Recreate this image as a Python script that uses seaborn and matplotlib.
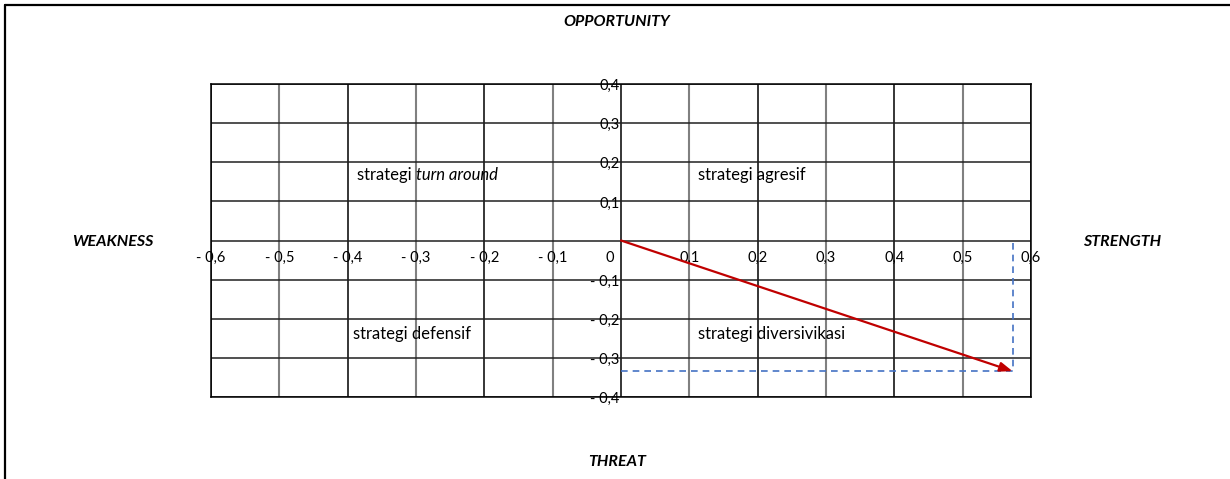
import numpy as np
import pandas as pd
import matplotlib
matplotlib.use("Agg")
import matplotlib.pyplot as plt
import matplotlib.transforms as mtransforms
from matplotlib.lines import Line2D
import seaborn as sns

sns.set_style("white")
plt.rcParams["font.family"] = ["Lato", "DejaVu Sans"]
plt.rcParams["text.color"] = "black"

# axis ticks (strength/weakness on x, opportunity/threat on y)
x_ticks = [-0.6, -0.5, -0.4, -0.3, -0.2, -0.1, 0.0, 0.1, 0.2, 0.3, 0.4, 0.5, 0.6]
x_labels = ["- 0,6", "- 0,5", "- 0,4", "- 0,3", "- 0,2", "- 0,1", "0",
            "0,1", "0,2", "0,3", "0,4", "0,5", "0,6"]
y_ticks = [0.4, 0.3, 0.2, 0.1, 0.0, -0.1, -0.2, -0.3, -0.4]
y_labels = ["0,4", "0,3", "0,2", "0,1", "", "- 0,1", "- 0,2", "- 0,3", "- 0,4"]

# position of the company (IFAS total, EFAS total)
score_x = 0.573
score_y = -0.334

RED = "#c00000"
BLUE = "#4472c4"

fig = plt.figure(figsize=(12.3, 4.79), dpi=100)
ax = fig.add_axes([211 / 1230, 82 / 479, 820 / 1230, 313 / 479])
ax.set_xlim(x_ticks[0], x_ticks[-1])
ax.set_ylim(min(y_ticks), max(y_ticks))

# grid - even tenths black, odd tenths grey on x
ax.set_xticks(x_ticks)
ax.set_yticks(y_ticks)
ax.grid(True, lw=1.1)
for i, gl in enumerate(ax.xaxis.get_gridlines()):
    gl.set_color("black" if i % 2 == 0 else "#808080")
    gl.set_linewidth(1.1 if i % 2 == 0 else 1.5)
for gl in ax.yaxis.get_gridlines():
    gl.set_color("#202020")
ax.tick_params(length=0, labelbottom=False, labelleft=False)
for s in ax.spines.values():
    s.set_color("black")
    s.set_linewidth(1.1)

# tick labels sit on the centre axes
xoff = mtransforms.offset_copy(ax.transData, fig=fig, x=0, y=-12.5, units="points")
zoff = mtransforms.offset_copy(ax.transData, fig=fig, x=-8, y=-12.5, units="points")
for v, lab in zip(x_ticks, x_labels):
    ax.text(v, 0, lab, ha="center", va="center", fontsize=10.5,
            transform=zoff if lab == "0" else xoff)
yoff = mtransforms.offset_copy(ax.transData, fig=fig, x=-1, y=-1.5, units="points")
for v, lab in zip(y_ticks, y_labels):
    ax.text(0, v, lab, ha="right", va="center", fontsize=10.5, transform=yoff)

# guide lines to the position
guide = pd.DataFrame({"x": [0, score_x, score_x], "y": [score_y, score_y, 0]})
sns.lineplot(data=guide, x="x", y="y", sort=False, estimator=None, ax=ax,
             color=BLUE, lw=1.2, dashes=False, linestyle=(0, (4, 3)))
ax.set_xlabel("")
ax.set_ylabel("")

ax.annotate("", xy=(score_x, score_y), xytext=(0, 0),
            arrowprops=dict(arrowstyle="-|>,head_length=0.75,head_width=0.28",
                            color=RED, lw=1.6, shrinkA=0, shrinkB=0,
                            mutation_scale=10))

# quadrant names
q_kw = dict(fontsize=12, va="center")
t1 = ax.text(-0.3865, 0.1675, "strategi ", **q_kw)
ax.annotate("turn around", xy=(1, 0), xycoords=t1, va="bottom", ha="left",
            fontsize=12, style="italic")
ax.text(0.113, 0.1675, "strategi agresif", **q_kw)
ax.text(-0.392, -0.239, "strategi defensif", **q_kw)
ax.text(0.113, -0.239, "strategi diversivikasi", **q_kw)

# outer labels
lab_kw = dict(fontsize=11.5, fontweight="bold", style="italic",
              ha="center", va="center")
fig.text(617 / 1230, 1 - 22 / 479, "OPPORTUNITY", **lab_kw)
fig.text(617 / 1230, 1 - 462 / 479, "THREAT", **lab_kw)
fig.text(113 / 1230, 1 - 242 / 479, "WEAKNESS", **lab_kw)
fig.text(1122 / 1230, 1 - 242 / 479, "STRENGTH", **lab_kw)

# frame around the picture (top and left only)
fig.add_artist(Line2D([5 / 1230, 1], [1 - 4.5 / 479] * 2, color="black", lw=1.6,
                      transform=fig.transFigure))
fig.add_artist(Line2D([5 / 1230] * 2, [0, 1 - 4.5 / 479], color="black", lw=1.6,
                      transform=fig.transFigure))

fig.savefig("out.png", dpi=100)
